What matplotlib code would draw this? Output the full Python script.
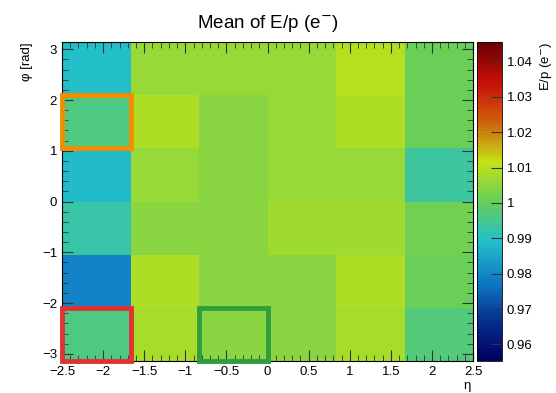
import numpy as np
import matplotlib
matplotlib.use('Agg')
import matplotlib.pyplot as plt
from matplotlib.colors import LinearSegmentedColormap
from matplotlib.patches import Rectangle
from matplotlib.ticker import MultipleLocator

plt.rcParams['font.family'] = ['Liberation Sans', 'DejaVu Sans']

# binning
eta_edges = np.linspace(-2.5, 2.5, 7)
phi_edges = np.linspace(-np.pi, np.pi, 7)

# mean E/p per cell, rows = phi bins from bottom (-pi) to top (+pi), cols = eta bins
ep_mean = np.array([
    [0.9964, 1.0079, 1.0045, 1.0045, 1.0079, 0.9968],   # -3.14 .. -2.09
    [0.9795, 1.0094, 1.0045, 1.0045, 1.0090, 1.0010],   # -2.09 .. -1.05
    [0.9927, 1.0045, 1.0045, 1.0069, 1.0071, 1.0021],   # -1.05 .. 0
    [0.9880, 1.0060, 1.0045, 1.0060, 1.0060, 0.9939],   # 0 .. 1.05
    [0.9967, 1.0086, 1.0045, 1.0060, 1.0092, 1.0008],   # 1.05 .. 2.09
    [0.9890, 1.0067, 1.0067, 1.0067, 1.0095, 1.0008],   # 2.09 .. 3.14
])

# highlighted cells: (eta col, phi row, colour)
boxes_col = [0, 0, 2]
boxes_row = [4, 0, 0]
boxes_color = ['#f28c00', '#e03232', '#2e9e3c']

# ROOT kRainBow palette
rb = [(0, 0, 99), (5, 48, 142), (15, 124, 198), (35, 192, 201), (102, 206, 90),
      (196, 226, 22), (208, 97, 13), (199, 16, 8), (110, 0, 2)]
cmap = LinearSegmentedColormap.from_list('rainbow55', [tuple(c / 255 for c in x) for x in rb], N=100)

fig = plt.figure(figsize=(5.56, 3.93), dpi=100)
ax = fig.add_axes([0.1115, 0.0814, 0.7395, 0.8116])
cax = fig.add_axes([0.858, 0.0814, 0.045, 0.8116])

mesh = ax.pcolormesh(eta_edges, phi_edges, ep_mean, cmap=cmap, vmin=0.9553, vmax=1.0455)

for c, r, col in zip(boxes_col, boxes_row, boxes_color):
    ax.add_patch(Rectangle((eta_edges[c], phi_edges[r]), eta_edges[c + 1] - eta_edges[c],
                           phi_edges[r + 1] - phi_edges[r], fill=False, ec=col, lw=3.5,
                           clip_on=False, zorder=5))

ax.set_xlim(-2.5, 2.5)
ax.set_ylim(-np.pi, np.pi)
ax.xaxis.set_major_locator(MultipleLocator(0.5))
ax.xaxis.set_minor_locator(MultipleLocator(0.1))
ax.yaxis.set_major_locator(MultipleLocator(1))
ax.yaxis.set_minor_locator(MultipleLocator(0.2))
ax.tick_params(which='both', direction='in', top=True, right=True, labelsize=9.5, color='#333333')
ax.tick_params(which='major', length=8)
ax.tick_params(which='minor', length=4)
ax.set_xticklabels([f'{v:g}'.replace('-', '\u2212') for v in ax.get_xticks()])
ax.set_yticklabels([f'{v:g}'.replace('-', '\u2212') for v in ax.get_yticks()])
ax.set_xlim(-2.5, 2.5)
ax.set_ylim(-np.pi, np.pi)
for s in ax.spines.values():
    s.set_linewidth(0.8)

ax.set_title(r'Mean of E/p (e$^{-}$)', fontsize=13.5, pad=10)
ax.text(0.985, -0.06, '\u03b7', transform=ax.transAxes, ha='center', va='top', fontsize=9.5)
ax.text(-0.085, 1.0, '\u03c6 [rad]', transform=ax.transAxes, ha='center', va='top',
        rotation=90, fontsize=9.5)

cb = fig.colorbar(mesh, cax=cax)
cb.set_ticks(np.arange(0.96, 1.0401, 0.01))
cb.set_ticklabels(['0.96', '0.97', '0.98', '0.99', '1', '1.01', '1.02', '1.03', '1.04'])
cax.tick_params(direction='in', length=8, labelsize=9.5, color='#333333')
cb.outline.set_linewidth(0.6)
cax.text(2.75, 1.0, r'E/p (e$^{-}$)', transform=cax.transAxes, ha='center', va='top',
         rotation=90, fontsize=9.5)

fig.savefig('out.png', dpi=100)
